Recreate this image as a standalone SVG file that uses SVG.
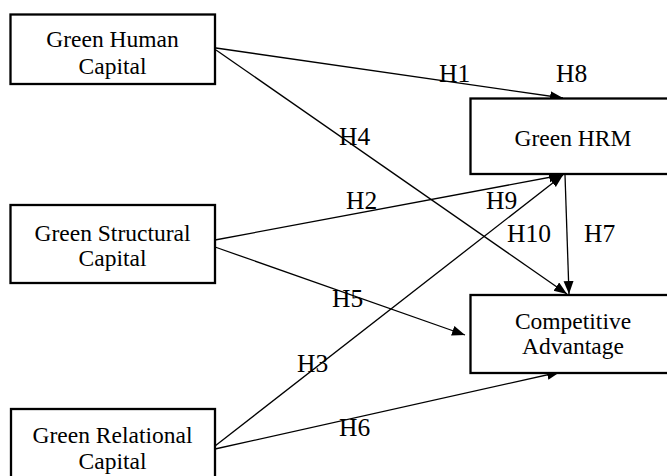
<svg xmlns="http://www.w3.org/2000/svg" width="667" height="476" viewBox="0 0 667 476">
<defs>
<style>
text{font-family:'Liberation Serif','Times New Roman',serif;fill:#000}
.box{fill:#fff;stroke:#000;stroke-width:2.3}
.nt{font-size:23.5px;text-anchor:middle}
.lb{font-size:25.5px}
.ln{stroke:#000;stroke-width:1.3;fill:none;marker-end:url(#ah)}
</style>
<marker id="ah" markerUnits="userSpaceOnUse" markerWidth="14" markerHeight="12" refX="13" refY="5" orient="auto">
<path d="M0,0 L13,5 L0,10 z" fill="#000"/>
</marker>
</defs>
<rect width="667" height="476" fill="#fff"/>
<g id="connectors">
<line class="ln" x1="216" y1="48" x2="563" y2="98"/>
<line class="ln" x1="216" y1="50" x2="567" y2="294"/>
<line class="ln" x1="215" y1="240" x2="562" y2="175"/>
<line class="ln" x1="215" y1="247" x2="465" y2="335"/>
<line class="ln" x1="215" y1="446" x2="563" y2="175"/>
<line class="ln" x1="215" y1="449" x2="560" y2="372"/>
<line class="ln" x1="565" y1="175" x2="569" y2="294"/>
</g>
<g id="green-human-capital">
<rect class="box" x="10.5" y="14.5" width="204.5" height="69.5"/>
<text class="nt" x="112.5" y="47">Green Human</text>
<text class="nt" x="112.5" y="74">Capital</text>
</g>
<g id="green-structural-capital">
<rect class="box" x="10.5" y="205" width="204.5" height="78"/>
<text class="nt" x="112.5" y="241">Green Structural</text>
<text class="nt" x="112.5" y="266">Capital</text>
</g>
<g id="green-relational-capital">
<rect class="box" x="11" y="409" width="204" height="90"/>
<text class="nt" x="112.5" y="443">Green Relational</text>
<text class="nt" x="112.5" y="469">Capital</text>
</g>
<g id="green-hrm">
<rect class="box" x="470.5" y="98.5" width="220" height="75.5"/>
<text class="nt" x="573" y="146">Green HRM</text>
</g>
<g id="competitive-advantage">
<rect class="box" x="470.5" y="295" width="220" height="78"/>
<text class="nt" x="573" y="329">Competitive</text>
<text class="nt" x="573" y="354">Advantage</text>
</g>
<g id="labels">
<text class="lb" x="439" y="82">H1</text>
<text class="lb" x="556" y="82">H8</text>
<text class="lb" x="339" y="145">H4</text>
<text class="lb" x="346" y="209">H2</text>
<text class="lb" x="486" y="209">H9</text>
<text class="lb" x="507" y="242">H10</text>
<text class="lb" x="584" y="242">H7</text>
<text class="lb" x="332" y="307">H5</text>
<text class="lb" x="297" y="372">H3</text>
<text class="lb" x="339" y="436">H6</text>
</g>
</svg>
